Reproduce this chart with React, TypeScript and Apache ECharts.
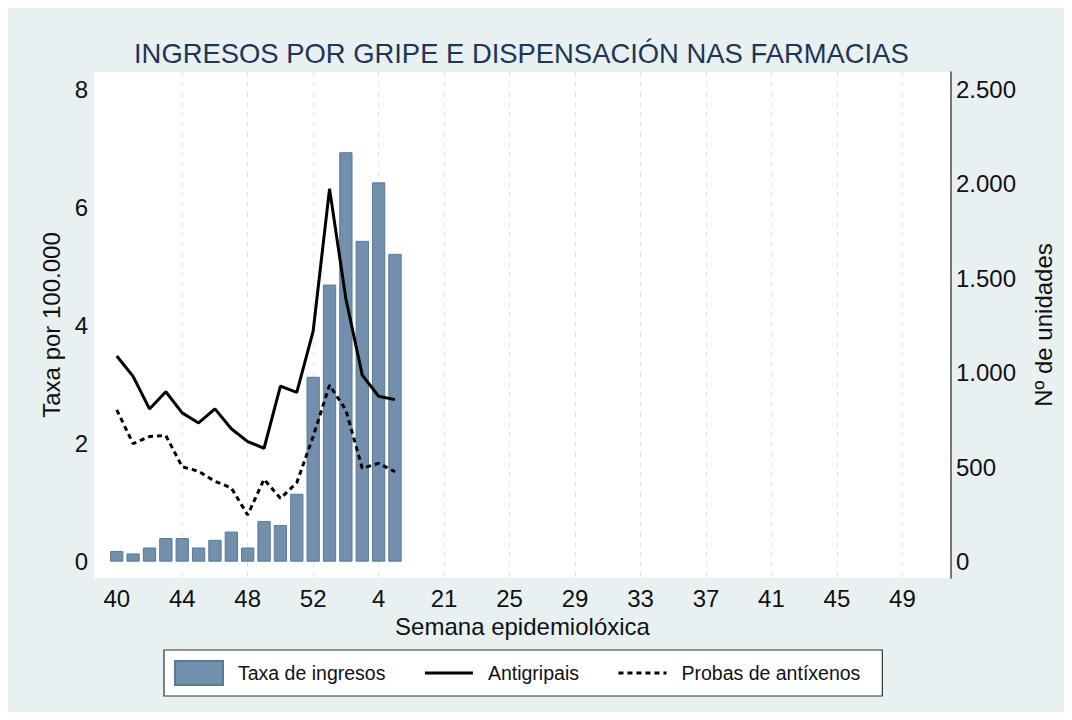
import React, { useEffect, useRef } from "react";
import * as echarts from "echarts";

// Weeks of the epidemiological season with data (x index 0..17)
const weeks = ["40", "41", "42", "43", "44", "45", "46", "47", "48", "49", "50", "51", "52", "1", "2", "3", "4", "5"];
// Taxa de ingresos (left axis, per 100.000)
const taxaIngresos = [0.18, 0.14, 0.24, 0.4, 0.4, 0.24, 0.37, 0.51, 0.24, 0.69, 0.62, 1.15, 3.13, 4.69, 6.93, 5.43, 6.42, 5.21];
// Antigripais (right axis, units)
const antigripais = [1088, 980, 808, 899, 787, 734, 808, 703, 635, 600, 929, 895, 1220, 1972, 1390, 987, 875, 857];
// Probas de antíxenos (right axis, units)
const probasAntixenos = [803, 624, 662, 667, 502, 478, 425, 390, 247, 436, 335, 418, 662, 934, 802, 494, 520, 476];

// X axis tick positions (week index) and their labels
const xTickPositions = [0, 4, 8, 12, 16, 20, 24, 28, 32, 36, 40, 44, 48];
const xTickLabels = ["40", "44", "48", "52", "4", "21", "25", "29", "33", "37", "41", "45", "49"];
const xGridPositions = [4, 8, 12, 16, 20, 24, 28, 32, 36, 40, 44, 48];
const leftTicks = [0, 2, 4, 6, 8];
const rightTicks = [0, 500, 1000, 1500, 2000, 2500];

const FONT = "'Liberation Sans', Arial, sans-serif";
const INVISIBLE = "rgba(0,0,0,0)";

function fmtThousands(v: number): string {
  return String(v).replace(/\B(?=(\d{3})+(?!\d))/g, ".");
}

export default function App() {
  const ref = useRef<HTMLDivElement>(null);
  useEffect(() => {
    if (!ref.current) return;
    const chart = echarts.init(ref.current, undefined, { renderer: "svg" });
    const option: any = {
      animation: false,
      backgroundColor: "#e9f0f2",
      textStyle: { fontFamily: FONT },
      title: {
        text: "INGRESOS POR GRIPE E DISPENSACIÓN NAS FARMACIAS",
        left: 126,
        top: 32,
        padding: 0,
        textStyle: { fontFamily: FONT, fontSize: 27.4, fontWeight: "normal", color: "#1c3656" },
      },
      grid: { left: 86, right: 113, top: 64, bottom: 134, show: true, backgroundColor: "#ffffff", borderWidth: 0 },
      legend: {
        left: 156,
        top: 642,
        padding: [10, 22, 10, 10],
        itemWidth: 48,
        itemHeight: 24,
        itemGap: 38,
        borderColor: "#333333",
        borderWidth: 1.2,
        backgroundColor: "#ffffff",
        lineStyle: { width: 3 },
        textStyle: { fontFamily: FONT, fontSize: 19.5, color: "#111111", padding: [0, 0, 0, 10] },
        data: [
          { name: "Taxa de ingresos", icon: "rect" },
          { name: "Antigripais" },
          { name: "Probas de antíxenos" },
        ],
      },
      xAxis: {
        type: "value",
        min: -1.39,
        max: 50.97,
        name: "Semana epidemiolóxica",
        nameLocation: "middle",
        nameGap: 29,
        nameTextStyle: { fontFamily: FONT, fontSize: 24, color: "#111111" },
        axisLine: { show: false },
        axisTick: { show: false, customValues: xGridPositions },
        axisLabel: {
          customValues: xTickPositions,
          fontSize: 24,
          color: "#111111",
          margin: 8,
          formatter: (v: number) => {
            const i = xTickPositions.indexOf(Math.round(v));
            return i >= 0 ? xTickLabels[i] : "";
          },
        },
        splitLine: { show: true, lineStyle: { color: "#dde5e9", width: 1, type: [5, 5] } },
      },
      yAxis: [
        {
          type: "value",
          min: -0.276,
          max: 8.288,
          name: "Taxa por 100.000",
          nameLocation: "middle",
          nameGap: 30,
          nameTextStyle: { fontFamily: FONT, fontSize: 24, color: "#111111" },
          axisLine: { show: false },
          axisTick: { show: false, customValues: leftTicks },
          axisLabel: { customValues: leftTicks, fontSize: 24, color: "#111111", margin: 6 },
          splitLine: { show: false },
        },
        {
          type: "value",
          position: "right",
          min: -86.3,
          max: 2590,
          name: "Nº de unidades",
          nameLocation: "middle",
          nameGap: 80,
          nameTextStyle: { fontFamily: FONT, fontSize: 24, color: "#111111" },
          axisLine: { show: true, onZero: false, lineStyle: { color: "#4a4a4a", width: 1.5 } },
          axisTick: { show: false, customValues: rightTicks },
          axisLabel: {
            customValues: rightTicks,
            fontSize: 24,
            color: "#111111",
            margin: 5,
            formatter: (v: number) => fmtThousands(v),
          },
          splitLine: { show: false },
        },
      ],
      series: [
        {
          name: "Taxa de ingresos",
          type: "bar",
          yAxisIndex: 0,
          barWidth: 13.3,
          itemStyle: { color: "#7290ad", borderColor: "#5b7895", borderWidth: 1 },
          data: taxaIngresos.map((v, i) => [i, v]),
        },
        {
          name: "Antigripais",
          type: "line",
          yAxisIndex: 1,
          symbol: "none",
          lineStyle: { color: "#000000", width: 3 },
          itemStyle: { color: INVISIBLE, borderWidth: 0, borderColor: INVISIBLE },
          data: antigripais.map((v, i) => [i, v]),
        },
        {
          name: "Probas de antíxenos",
          type: "line",
          yAxisIndex: 1,
          symbol: "none",
          lineStyle: { color: "#000000", width: 3, type: [5, 4] },
          itemStyle: { color: INVISIBLE, borderWidth: 0, borderColor: INVISIBLE },
          data: probasAntixenos.map((v, i) => [i, v]),
        },
      ],
    };
    chart.setOption(option);
    return () => chart.dispose();
  }, []);
  return <div ref={ref} style={{ width: 1056, height: 704 }} />;
}
